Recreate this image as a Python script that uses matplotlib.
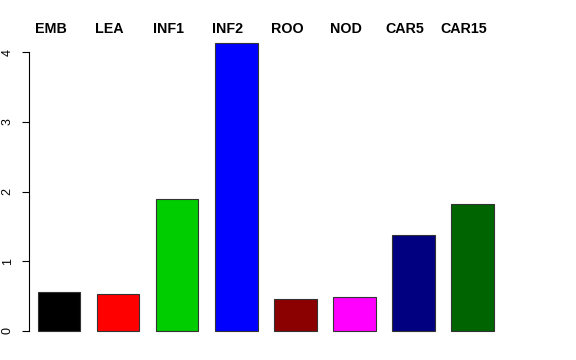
import matplotlib
matplotlib.use("Agg")
import matplotlib.pyplot as plt

categories = ["EMB", "LEA", "INF1", "INF2", "ROO", "NOD", "CAR5", "CAR15"]
values = [0.56, 0.53, 1.89, 4.13, 0.46, 0.49, 1.38, 1.82]
colors = ["#000000", "#FF0000", "#00CD00", "#0000FF", "#8B0000", "#FF00FF", "#000080", "#006400"]
yticks = [0, 1, 2, 3, 4]

plt.rcParams['font.family'] = ['Liberation Sans', 'DejaVu Sans']

W, H = 576, 360
fig = plt.figure(figsize=(W / 100, H / 100), dpi=100)
left_px, right_px, top_px, bot_px = 29, 540, 30, 340
ax = fig.add_axes([left_px / W, 1 - bot_px / H, (right_px - left_px) / W, (bot_px - top_px) / H])

x0_px, step_px = 59.0, 59.1
zero_px, unit_px = 331.0, 69.75
ax.set_xlim((left_px - x0_px) / step_px, (right_px - x0_px) / step_px)
ax.set_ylim((zero_px - bot_px) / unit_px, (zero_px - top_px) / unit_px)

xs = list(range(len(categories)))
ax.bar(xs, values, width=0.72, color=colors, edgecolor="#333333", linewidth=0.8)

ax.set_xticks([])
ax.set_yticks(yticks)
ax.set_yticklabels([str(t) for t in yticks], rotation=90, va="center", fontsize=9)
ax.tick_params(axis="y", direction="out", length=5, width=0.8, pad=6)
for s in ["top", "right", "bottom"]:
    ax.spines[s].set_visible(False)
ax.spines["left"].set_bounds(0, 4)
ax.spines["left"].set_linewidth(0.8)

label_y = (zero_px - 29) / unit_px
label_dx = -8.5 / step_px
for x, c in zip(xs, categories):
    ax.text(x + label_dx, label_y, c, ha="center", va="center", fontsize=10.3,
            fontweight="bold", clip_on=False)

fig.savefig("out.png", dpi=100)
